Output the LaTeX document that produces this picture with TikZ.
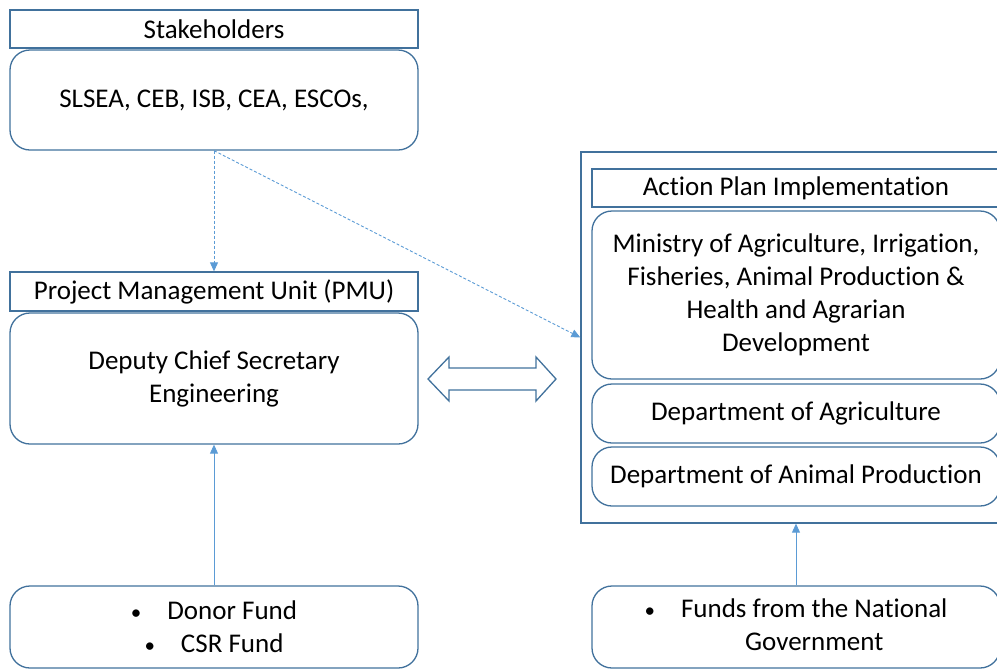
\documentclass[tikz,border=0pt]{standalone}
\usepackage{fontspec}
\setmainfont{Carlito}[Ligatures=NoCommon]
\usetikzlibrary{arrows.meta}
\definecolor{boxblue}{RGB}{65,113,156}
\definecolor{linkblue}{RGB}{91,155,213}
\newcommand{\dotmark}{{\fontsize{21}{21}\selectfont\textbullet}}

\begin{document}
\begin{tikzpicture}[x=1pt,y=1pt]
    \tikzset{
        every node/.style={inner sep=0pt, align=center, font=\fontsize{27}{33}\selectfont},
        hdr/.style={draw=boxblue, line width=1.3pt, minimum width=408, minimum height=38},
        panel/.style={draw=boxblue, line width=1.3pt, rounded corners=20, minimum width=408},
        link/.style={draw=linkblue, line width=0.9pt, -{Triangle[length=9,width=8]}},
    }
    \useasboundingbox (0,0) rectangle (997,-670);
    \begin{scope}
    \clip (0,0) rectangle (997,-670);
    % left column
    \node [hdr] (stake) at (214,-29) {Stakeholders};
    \node [panel, minimum height=100] (slsea) at (214,-100) {SLSEA, CEB, ISB, CEA, ESCOs,};
    \node [hdr, minimum height=39] (pmu) at (214,-291.5) {Project Management Unit (PMU)};
    \node [panel, minimum height=131] (dcs) at (214,-378.5) {Deputy Chief Secretary\\Engineering};
    \node [panel, minimum height=82] (donor) at (214,-627)
        {\dotmark\hspace{26pt}Donor Fund\\\dotmark\hspace{26pt}CSR Fund};
    % right column
    \node [draw=boxblue, line width=1.3pt, minimum width=422, minimum height=371] (apbox) at (792,-337.5) {};
    \node [hdr] (aphdr) at (796,-188) {Action Plan Implementation};
    \node [panel, minimum height=168] (ministry) at (796,-295)
        {Ministry of Agriculture, Irrigation,\\Fisheries, Animal Production \&\\Health and Agrarian\\Development};
    \node [panel, minimum height=59] (agri) at (796,-413.5) {Department of Agriculture};
    \node [panel, minimum height=59] (animal) at (796,-476.5) {Department of Animal Production};
    \node [panel, minimum height=82] (funds) at (796,-627)
        {\begin{tabular}{@{}l@{\hspace{26pt}}c@{}}\dotmark & Funds from the National\\ & Government\end{tabular}};
    \end{scope}
    % connectors
    \draw [link, dashed, dash pattern=on 3pt off 2pt] (slsea.south) -- (pmu.north);
    \draw [link, dashed, dash pattern=on 3pt off 2pt] (slsea.south) -- (apbox.west);
    \draw [link] (donor.north) -- (dcs.south);
    \draw [link] (funds.north) -- (funds.north |- apbox.south);
    % two-way block arrow
    \draw [boxblue, line width=1.3pt] (428,-379) -- (449,-357) -- (449,-368) -- (536,-368) -- (536,-357)
        -- (556,-379) -- (536,-401) -- (536,-390) -- (449,-390) -- (449,-401) -- cycle;
\end{tikzpicture}
\end{document}
